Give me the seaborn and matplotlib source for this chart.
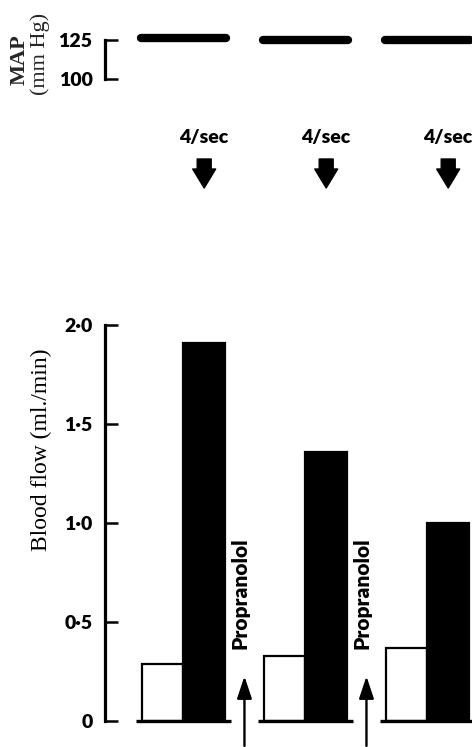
import numpy as np
import pandas as pd
import matplotlib
matplotlib.use('Agg')
import matplotlib.pyplot as plt
import seaborn as sns
from matplotlib.patches import FancyArrow

# ---- data ----
groups = ['1', '2', '3']
conditions = ['Rest', 'Stimulation 4/sec']
rest_flow = [0.29, 0.33, 0.37]
stim_flow = [1.91, 1.36, 1.00]
map_values = [126, 125, 125]
flow_ticks = [0, 0.5, 1.0, 1.5, 2.0]
flow_tick_labels = ['0', '0·5', '1·0', '1·5', '2·0']
map_ticks = [100, 125]
map_tick_labels = ['100', '125']
stim_label = '4/sec'
drug_label = 'Propranolol'
drug_positions = [0.5, 1.5]

sns.set_theme(style='white')
plt.rcParams['font.family'] = ['Lato', 'DejaVu Sans']
SERIF = ['Liberation Serif', 'DejaVu Serif']

df = pd.DataFrame({
    'group': groups * 2,
    'condition': [conditions[0]] * len(groups) + [conditions[1]] * len(groups),
    'flow': rest_flow + stim_flow,
})

W, H = 472, 747
fig = plt.figure(figsize=(W / 100, H / 100), dpi=100)


def px_rect(l, t, r, b):
    return [l / W, 1 - b / H, (r - l) / W, (b - t) / H]


XLIM = (-0.643, 2.365)

# ---- bottom panel: blood flow ----
ax = fig.add_axes(px_rect(105, 325, 472, 721))
sns.barplot(data=df, x='group', y='flow', hue='condition',
            palette=['white', 'black'], edgecolor='black', linewidth=1.6,
            width=0.68, saturation=1, errorbar=None, legend=False, ax=ax)
ax.set_xlim(*XLIM)
ax.set_ylim(0, 2.0)
for s in ['top', 'right', 'bottom']:
    ax.spines[s].set_visible(False)
ax.spines['left'].set_linewidth(2.3)
ax.spines['left'].set_color('black')
ax.set_xticks([])
ax.set_xlabel('')
ax.set_yticks(flow_ticks)
ax.set_yticklabels(flow_tick_labels, fontweight='heavy')
ax.tick_params(axis='y', left=True, direction='in', length=9, width=1.8,
               pad=9, labelsize=14, colors='black')
ax.set_ylabel('Blood flow (ml./min)', family=SERIF, fontsize=17, color='black')
ax.yaxis.set_label_coords(-0.145, 0.684)

for i in range(len(groups)):
    ax.plot([i - 0.39, i + 0.39], [0, 0], color='black', lw=2.4,
            clip_on=False, solid_capstyle='butt')

for gx in drug_positions:
    ax.text(gx - 0.04, 0.645, drug_label, rotation=90, ha='center', va='center',
            fontweight='heavy', fontsize=15, color='black')
    ax.annotate('', xy=(gx, 0.24), xytext=(gx, -0.14),
                arrowprops=dict(arrowstyle='-|>,head_length=0.9,head_width=0.3',
                                lw=1.7, color='black', mutation_scale=15),
                annotation_clip=False)

# ---- top panel: MAP ----
ax_top = fig.add_axes(px_rect(105, 20, 472, 100))
ax_top.set_xlim(*XLIM)
ax_top.set_ylim(87.0, 137.7)
for i, v in enumerate(map_values):
    ax_top.plot([i - 0.35, i + 0.35], [v, v], color='black', lw=6,
                solid_capstyle='round')
for s in ['top', 'right', 'bottom']:
    ax_top.spines[s].set_visible(False)
ax_top.spines['left'].set_bounds(100, 125)
ax_top.spines['left'].set_linewidth(2.3)
ax_top.spines['left'].set_color('black')
ax_top.set_xticks([])
ax_top.set_yticks(map_ticks)
ax_top.set_yticklabels(map_tick_labels, fontweight='heavy')
ax_top.tick_params(axis='y', left=True, direction='in', length=9, width=1.8,
                   pad=9, labelsize=14, colors='black')
ax_top.set_facecolor('none')

fig.text(20 / W, 1 - 60 / H, 'MAP', rotation=90, ha='center', va='center',
         family=SERIF, fontweight='bold', fontsize=16)
fig.text(40 / W, 1 - 54 / H, '(mm Hg)', rotation=90, ha='center', va='center',
         family=SERIF, fontsize=16)

# ---- middle: stimulation markers ----
ax_mid = fig.add_axes(px_rect(105, 120, 472, 200))
ax_mid.set_xlim(*XLIM)
ax_mid.set_ylim(200, 120)
ax_mid.axis('off')
px_per_unit = 367 / (XLIM[1] - XLIM[0])
for i in range(len(groups)):
    x = i + 0.17
    ax_mid.text(x, 137, stim_label, ha='center', va='center',
                fontweight='heavy', fontsize=14, color='black')
    ax_mid.add_patch(FancyArrow(x, 159, 0, 29, width=14 / px_per_unit,
                                head_width=23 / px_per_unit, head_length=19,
                                length_includes_head=True, color='black',
                                joinstyle='round', lw=1))

fig.savefig('out.png', dpi=100, facecolor='white')
